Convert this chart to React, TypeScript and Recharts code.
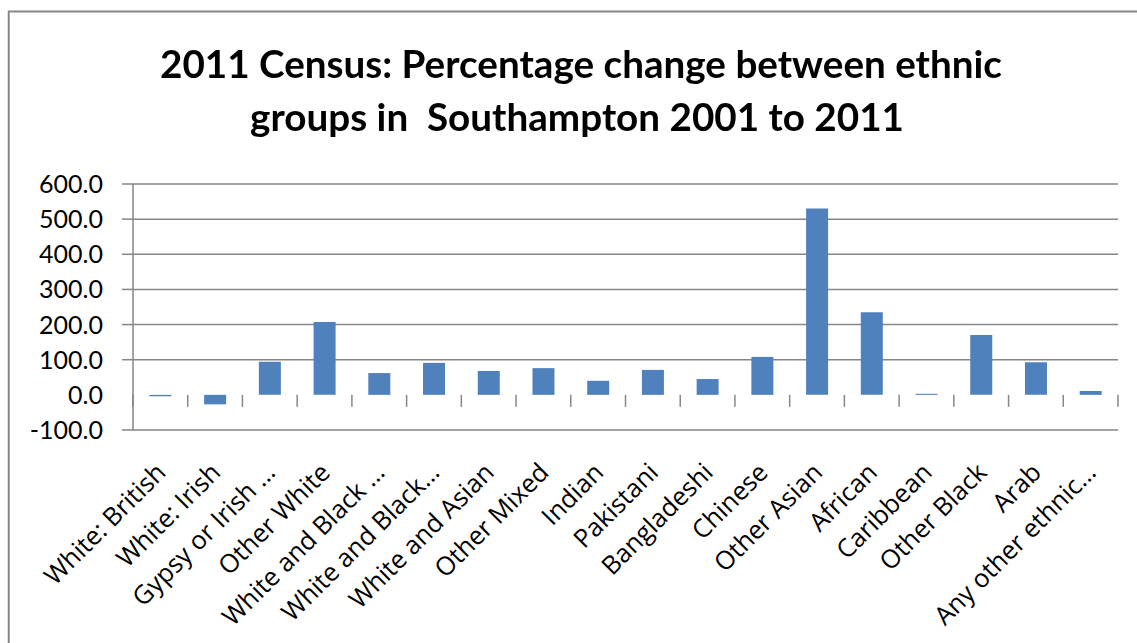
import React from "react";
import { BarChart, Bar, XAxis, YAxis, CartesianGrid, ReferenceLine } from "recharts";

const categories = [
  "White: British",
  "White: Irish",
  "Gypsy or Irish …",
  "Other White",
  "White and Black …",
  "White and Black…",
  "White and Asian",
  "Other Mixed",
  "Indian",
  "Pakistani",
  "Bangladeshi",
  "Chinese",
  "Other Asian",
  "African",
  "Caribbean",
  "Other Black",
  "Arab",
  "Any other ethnic…",
];
const values = [-4, -27, 94, 207, 62, 91, 68, 76, 40, 71, 45, 108, 530, 235, 3, 170, 93, 11];
const yTicks = [-100, 0, 100, 200, 300, 400, 500, 600];
const gridValues = [-100, 100, 200, 300, 400, 500, 600];
const titleLines = [
  "2011 Census: Percentage change between ethnic",
  "groups in  Southampton 2001 to 2011",
];

const data = categories.map((name, i) => ({ name, value: values[i] }));

const FONT = "Lato, 'Open Sans', sans-serif";
const XFONT = "'Open Sans', Lato, sans-serif";
const GRID = "#868686";
const W = 1121;
const H = 627;

const YTick = (props: any) => {
  const { x, y, payload } = props;
  return (
    <g>
      {payload.value !== 0 && (
        <line x1={x + 19} x2={x + 30} y1={y} y2={y} stroke={GRID} strokeWidth={1.5} />
      )}
      <text x={x} y={y} dy="0.36em" textAnchor="end" fontFamily={FONT} fontSize={25} fill="#000">
        {Number(payload.value).toFixed(1)}
      </text>
    </g>
  );
};

const XTick = (props: any) => {
  const { x, y, payload } = props;
  const ax = x + 7;
  const ay = y + 44;
  return (
    <text
      x={ax}
      y={ay}
      textAnchor="end"
      transform={`rotate(-45, ${ax}, ${ay})`}
      fontFamily={XFONT}
      fontSize={25.5}
      fill="#000"
    >
      {payload.value}
    </text>
  );
};

const ZeroAxisTicks = (props: any) => {
  const { x1, x2, y1 } = props;
  const n = categories.length;
  const step = (x2 - x1) / n;
  const marks = [];
  for (let i = 0; i <= n; i++) {
    const xx = x1 + i * step;
    marks.push(<line key={i} x1={xx} x2={xx} y1={y1} y2={y1 + 12} stroke={GRID} strokeWidth={1.5} />);
  }
  return <g>{marks}</g>;
};

export default function App() {
  return (
    <div style={{ position: "relative", width: W, height: H, overflow: "hidden" }}>
      <style>{"html,body{overflow:hidden;}"}</style>
      <BarChart
        width={W}
        height={H}
        data={data}
        margin={{ top: 176, right: 11, bottom: 0, left: 0 }}
        barCategoryGap="30%"
      >
        <CartesianGrid vertical={false} horizontalValues={gridValues} stroke={GRID} strokeWidth={1.5} />
        <XAxis
          dataKey="name"
          interval={0}
          height={205}
          axisLine={false}
          tickLine={false}
          tickSize={0}
          tickMargin={0}
          tick={<XTick />}
        />
        <YAxis
          type="number"
          domain={[-100, 600]}
          ticks={yTicks}
          interval={0}
          width={125}
          axisLine={{ stroke: GRID, strokeWidth: 1.5 }}
          tickLine={false}
          tickSize={11}
          tickMargin={19}
          tick={<YTick />}
        />
        <ReferenceLine y={0} shape={<ZeroAxisTicks />} />
        <Bar dataKey="value" fill="#4F81BD" isAnimationActive={false} />
      </BarChart>
      <svg
        width={1137}
        height={643}
        style={{ position: "fixed", left: 0, top: 0, pointerEvents: "none" }}
      >
        <rect x={1121} y={13} width={16} height={630} fill="#fff" />
        <line x1={8} x2={1137} y1={11.5} y2={11.5} stroke={GRID} strokeWidth={2} />
        <line x1={8.75} x2={8.75} y1={11} y2={643} stroke={GRID} strokeWidth={2} />
        <text
          x={581}
          y={78}
          textAnchor="middle"
          fontFamily={FONT}
          fontWeight="bold"
          fontSize={38}
          textLength={842}
          lengthAdjust="spacingAndGlyphs"
          fill="#000"
        >
          {titleLines[0]}
        </text>
        <text
          x={577}
          y={131}
          textAnchor="middle"
          fontFamily={FONT}
          fontWeight="bold"
          fontSize={38}
          textLength={654}
          lengthAdjust="spacingAndGlyphs"
          fill="#000"
          style={{ whiteSpace: "pre" }}
        >
          {titleLines[1]}
        </text>
      </svg>
    </div>
  );
}
